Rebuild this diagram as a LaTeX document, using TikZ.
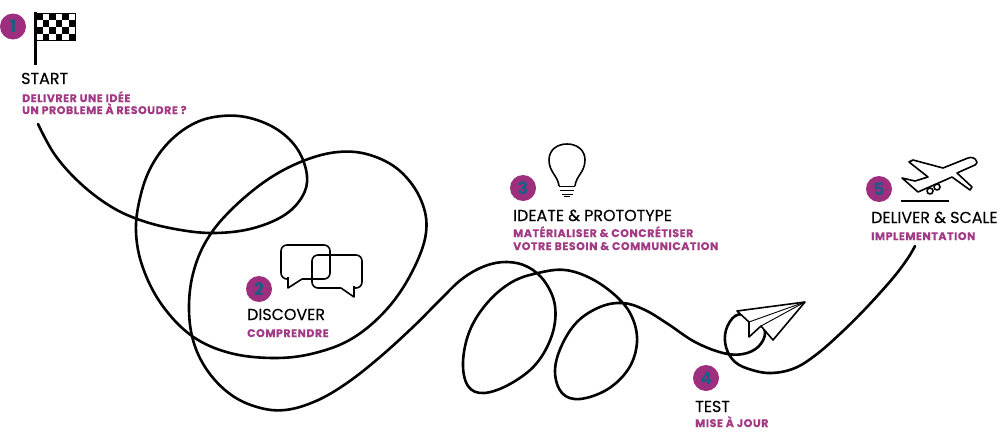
\documentclass[tikz,border=0pt]{standalone}
\usepackage{fontspec}
\setmainfont{Poppins}
\newfontfamily\titlefont[FakeBold=0.25]{Poppins}
\newfontfamily\subfont[LetterSpace=5, BoldFeatures={FakeBold=0.3}]{Poppins}
\usepackage{tikz}

\definecolor{dotpurple}{HTML}{9E2F7F}
\definecolor{subpurple}{HTML}{A23A85}
\definecolor{digitblue}{HTML}{1D5C86}

\tikzset{
  numdot/.style={circle, fill=dotpurple, text=digitblue, minimum size=26pt, inner sep=0pt, font=\fontsize{17}{17}\selectfont\bfseries},
  steptitle/.style={anchor=base west, inner sep=0pt, text=black, font=\fontsize{15.9}{15.9}\selectfont\titlefont},
  stepsub/.style={anchor=base west, inner sep=0pt, text=subpurple, font=\fontsize{11}{11}\selectfont\subfont\bfseries},
  curveline/.style={line width=2.6pt, line cap=round},
  iconline/.style={line width=1.6pt, line join=round}
}

\begin{document}
\begin{tikzpicture}
\begin{scope}[x=1pt, y=-1pt]
\useasboundingbox (0,0) rectangle (1000,439);
\fill[white] (0,0) rectangle (1000,439);

% the long line
\draw[curveline] plot[smooth, tension=0.62] coordinates {
(38,124) (55,155) (80,183) (110,206) (140,220) (175,229) (212,233) (250,229) (283,216) (302,197) (307,176) (298,150) (278,130) (250,118) (222,116) (195,123) (170,141) (151,167) (140,198) (136,232) (143,268) (162,305) (192,336) (230,353) (275,358) (315,353) (353,338) (387,309) (412,272) (426,233) (421,200) (400,171) (370,155) (338,152) (303,161) (267,180) (232,209) (208,238) (194,270) (189,305) (193,340) (207,370) (230,394) (257,407) (285,410) (316,401) (347,383) (380,357) (413,327) (440,300) (462,279) (485,266) (507,262) (528,267) (545,282) (555,306) (552,335) (536,364) (510,384) (484,393) (468,386) (463,362) (470,330) (488,302) (512,282) (538,273) (565,270) (592,279) (617,297) (632,317) (637,342) (629,368) (608,389) (580,399) (562,393) (555,372) (561,347) (577,322) (600,307) (623,303) (645,310) (668,324) (695,342) (723,353) (743,354) (758,347) (765,334) (760,322) (748,315) (735,316) (726,330) (726,347) (735,362) (752,370) (772,373) (795,368) (817,354) (842,332) (867,307) (893,278) (908,258) (915,246)};

% flag
\draw[line width=2.6pt] (35.5,12)--(35.5,65);
\fill[white] (36,13) rectangle (75,41);
\foreach \row in {0,1,2,3}{
  \foreach \col in {0,...,5}{
    \pgfmathparse{int(mod(\row+\col,2))}
    \ifnum\pgfmathresult=0
      \fill (36+\col*6.5,13.5+\row*6.8) rectangle +(6.5,6.8);
    \fi
  }
}
\draw[line width=0.8pt] (36,13.5) rectangle (75,40.7);

% bubbles
\draw[iconline, rounded corners=6pt] (302,279)--(330,279)--(330,245)--(281,245)--(281,279)--(288,279);
\draw[iconline] (288,277)--(288,288)--(302,279);
\draw[iconline, rounded corners=6pt] (341,288)--(312,288)--(312,255)--(362,255)--(362,288)--(354,288);
\draw[iconline] (341,288)--(354,297)--(354,286);

% bulb
\draw[iconline] (559,186) .. controls (558,176) and (549,172) .. (549,160) .. controls (549,150) and (557,144) .. (567,144) .. controls (577,144) and (585,150) .. (585,160) .. controls (585,172) and (576,176) .. (575,186);
\draw[iconline] (559,186.5)--(575,186.5);
\draw[iconline] (560,190.5)--(574,190.5);
\draw[iconline] (561.5,194.5)--(572.5,194.5);
\draw[iconline] (564,196.5)--(570,196.5);

% paper plane
\draw[line width=1.6pt, line join=round, fill=white] (805,302)--(737,311)--(749,322)--(749,337)--(761,326)--(773,340)--cycle;
\draw[line width=0.9pt] (749,322)--(805,302);
\draw[line width=0.9pt] (761,326)--(805,302);

% airplane
\draw[iconline] (977,162) .. controls (975,157) and (971,157) .. (968,158)--(943,168)--(913,160)--(909,162)--(928,177)--(915,181)--(902,178)--(918,192)--(952,177)--(970,190)--(972,187)--(957,173)--(975,165) .. controls (976,164) and (977,163) .. (977,162);
\draw[iconline] (930,191) circle (3pt);
\draw[iconline] (937,187) circle (3pt);
\draw[line width=2.4pt] (901,200.7)--(949,200.7);

% numbers
\node[numdot] (dot1) at (13,26.5) {1};
\node[numdot] (dot2) at (259,289) {2};
\node[numdot] (dot3) at (523,188) {3};
\node[numdot] (dot4) at (706,378) {4};
\node[numdot] (dot5) at (879,189) {5};

% texts
\node[steptitle] (start) at (21,84) {START};
\node[stepsub] (startsubA) at (22,102) {DELIVRER UNE IDÉE};
\node[stepsub] (startsubB) at (22,114) {UN PROBLEME À RESOUDRE ?};
\node[steptitle] (discover) at (247,320) {DISCOVER};
\node[stepsub] (discoversub) at (247,337) {COMPRENDRE};
\node[steptitle] (ideate) at (513,221) {IDEATE \& PROTOTYPE};
\node[stepsub] (ideatesubA) at (513,237) {MATÉRIALISER \& CONCRÉTISER};
\node[stepsub] (ideatesubB) at (513,250) {VOTRE BESOIN \& COMMUNICATION};
\node[steptitle] (test) at (695,412) {TEST};
\node[stepsub] (testsub) at (695,427) {MISE À JOUR};
\node[steptitle] (deliver) at (871,223) {DELIVER \& SCALE};
\node[stepsub] (deliversub) at (871,240) {IMPLEMENTATION};
\end{scope}
\end{tikzpicture}
\end{document}
